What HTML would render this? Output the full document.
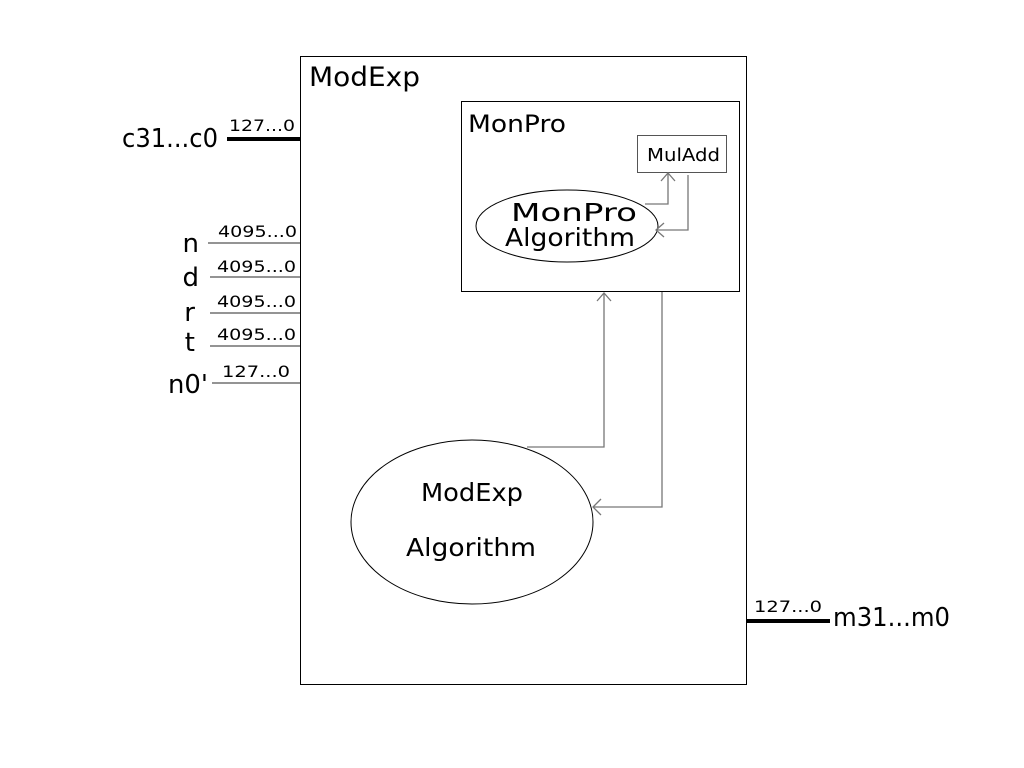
<!DOCTYPE html>
<html><head><meta charset="utf-8"><style>
html,body{margin:0;padding:0;background:#fff;}
svg{display:block;}
text{font-family:"DejaVu Sans","Liberation Sans",sans-serif;fill:#000;}
</style></head><body>
<svg width="1024" height="768" viewBox="0 0 1024 768" xmlns="http://www.w3.org/2000/svg">
<rect x="300.5" y="56.5" width="446" height="628" fill="none" stroke="#000" stroke-width="1"/>
<text x="309" y="86" font-size="27" textLength="111" lengthAdjust="spacingAndGlyphs">ModExp</text>
<rect x="461.5" y="101.5" width="278" height="190" fill="none" stroke="#000" stroke-width="1"/>
<text x="468" y="132" font-size="24" textLength="98" lengthAdjust="spacingAndGlyphs">MonPro</text>
<rect x="637.5" y="135.5" width="89" height="37" fill="none" stroke="#555" stroke-width="1"/>
<text x="647" y="161" font-size="18" textLength="73" lengthAdjust="spacingAndGlyphs">MulAdd</text>
<ellipse cx="567" cy="226" rx="91" ry="36" fill="none" stroke="#000" stroke-width="1"/>
<text x="511" y="221" font-size="25" textLength="126" lengthAdjust="spacingAndGlyphs">MonPro</text>
<text x="505" y="246" font-size="25" textLength="130" lengthAdjust="spacingAndGlyphs">Algorithm</text>
<g fill="none" stroke="#777" stroke-width="1.3">
<polyline points="645,204 668,204 668,173"/>
<polyline points="661,181 668,173 675,181"/>
<polyline points="688,175 688,230 656,230"/>
<polyline points="664,223 656,230 664,237"/>
<polyline points="527,447 604,447 604,293"/>
<polyline points="597,301 604,293 611,301"/>
<polyline points="662,292 662,507 593,507"/>
<polyline points="601,499 593,507 601,515"/>
</g>
<ellipse cx="472" cy="522" rx="121" ry="82" fill="none" stroke="#000" stroke-width="1"/>
<text x="421" y="501" font-size="25" textLength="102" lengthAdjust="spacingAndGlyphs">ModExp</text>
<text x="406" y="556" font-size="25" textLength="130" lengthAdjust="spacingAndGlyphs">Algorithm</text>
<line x1="227" y1="139" x2="300" y2="139" stroke="#000" stroke-width="4"/>
<text x="122" y="147" font-size="26" textLength="96" lengthAdjust="spacingAndGlyphs">c31...c0</text>
<text x="229" y="131" font-size="16" textLength="66" lengthAdjust="spacingAndGlyphs">127...0</text>
<g stroke="#555" stroke-width="1.3">
<line x1="208" y1="243" x2="300" y2="243"/>
<line x1="210" y1="277" x2="300" y2="277"/>
<line x1="210" y1="313" x2="300" y2="313"/>
<line x1="210" y1="346" x2="300" y2="346"/>
<line x1="212" y1="383" x2="300" y2="383"/>
</g>
<text x="199" y="252" font-size="26" text-anchor="end">n</text>
<text x="199" y="286" font-size="26" text-anchor="end">d</text>
<text x="195" y="321" font-size="26" text-anchor="end">r</text>
<text x="195" y="351" font-size="26" text-anchor="end">t</text>
<text x="168" y="393" font-size="26" textLength="40" lengthAdjust="spacingAndGlyphs">n0'</text>
<text x="218" y="237" font-size="16" textLength="79" lengthAdjust="spacingAndGlyphs">4095...0</text>
<text x="217" y="272" font-size="16" textLength="79" lengthAdjust="spacingAndGlyphs">4095...0</text>
<text x="217" y="307" font-size="16" textLength="79" lengthAdjust="spacingAndGlyphs">4095...0</text>
<text x="217" y="340" font-size="16" textLength="79" lengthAdjust="spacingAndGlyphs">4095...0</text>
<text x="222" y="377" font-size="16" textLength="68" lengthAdjust="spacingAndGlyphs">127...0</text>
<line x1="747" y1="621" x2="830" y2="621" stroke="#000" stroke-width="4"/>
<text x="754" y="612" font-size="16" textLength="68" lengthAdjust="spacingAndGlyphs">127...0</text>
<text x="833" y="626" font-size="26" textLength="117" lengthAdjust="spacingAndGlyphs">m31...m0</text>
</svg>
</body></html>
